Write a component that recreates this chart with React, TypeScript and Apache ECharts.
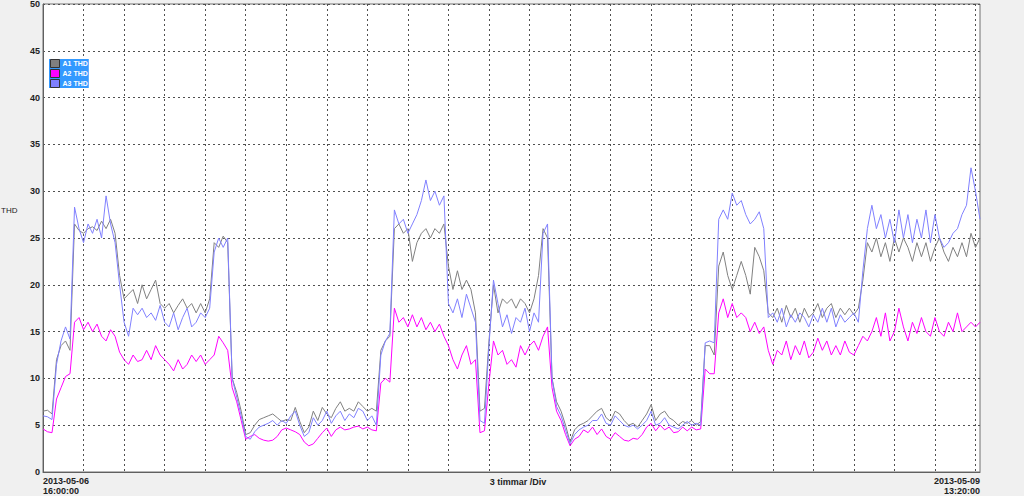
import React, { useEffect, useRef } from "react";
import * as echarts from "echarts";

// Sampling: 20-minute readings from 2013-05-06 16:00:00 to 2013-05-09 13:20:00
const START_UTC = Date.UTC(2013, 4, 6, 16, 0, 0);
const STEP_MINUTES = 20;
const GRID_EVERY_SAMPLES = 9; // 3 hours per division
const X_NAME = "3 timmar /Div";
const Y_NAME = "THD";
const Y_MIN = 0;
const Y_MAX = 50;
const Y_INTERVAL = 5;
const SERIES_NAMES = ["A1 THD", "A2 THD", "A3 THD"];
const SERIES_COLORS = ["#808080", "#ff00ff", "#8080ff"];

const A1_THD = [
  6.5, 6.6, 6.2, 12.0, 13.5, 14.0, 13.0, 26.5, 25.8, 25.5, 26.0,
  26.2, 25.8, 26.8, 26.0, 27.0, 25.5, 21.0, 18.5, 19.0, 19.5,
  18.0, 20.0, 18.5, 19.5, 20.5, 18.0, 17.5, 18.0, 17.0, 17.8,
  18.5, 17.5, 18.0, 17.0, 18.0, 17.0, 18.5, 24.5, 24.0, 25.2,
  24.5, 10.0, 8.5, 6.5, 4.0, 4.2, 5.0, 5.6, 5.8, 6.0,
  6.2, 5.8, 5.4, 5.6, 5.5, 6.9, 5.4, 4.2, 4.8, 6.5,
  5.5, 6.9, 6.2, 5.8, 6.8, 7.5, 6.5, 6.8, 6.5, 7.5,
  7.0, 6.5, 6.8, 6.5, 13.0, 14.0, 14.5, 26.0, 26.5, 25.5,
  26.0, 22.5, 24.5, 25.5, 26.0, 25.0, 26.0, 25.5, 26.5, 22.0,
  19.5, 21.5, 19.5, 20.5, 19.5, 17.0, 6.5, 6.8, 14.0, 20.0,
  17.0, 18.5, 18.0, 18.5, 17.5, 18.5, 18.0, 17.0, 18.5, 21.0,
  26.0, 25.0, 10.0, 7.5, 6.5, 5.0, 3.2, 4.5, 5.0, 5.2,
  5.5, 6.0, 6.5, 6.8, 5.8, 5.4, 6.5, 6.2, 5.5, 5.0,
  5.2, 4.8, 5.5, 6.2, 7.2, 5.5, 6.2, 6.5, 5.8, 5.5,
  5.0, 5.4, 5.2, 5.5, 5.0, 5.4, 13.5, 13.5, 12.5, 22.0,
  23.5, 21.0, 19.5, 21.0, 22.5, 21.0, 19.0, 24.0, 23.0, 21.5,
  17.0, 16.5, 17.5, 16.0, 17.8, 16.5, 17.5, 16.0, 17.5, 16.5,
  17.0, 18.0, 16.5, 17.5, 18.0, 16.5, 17.5, 16.8, 17.5, 16.8,
  17.5, 20.5, 24.5, 23.5, 25.0, 23.0, 24.5, 22.5, 25.0, 23.5,
  25.0, 24.0, 22.5, 24.5, 23.0, 24.5, 22.5, 24.0, 25.0, 23.5,
  22.5, 24.0, 23.0, 24.5, 23.0, 25.5, 24.0, 25.0,
];

const A2_THD = [
  4.6, 4.3, 4.2, 7.8, 9.0, 10.2, 10.5, 16.0, 16.5, 15.2, 16.0,
  15.0, 15.8, 14.5, 14.0, 15.2, 14.5, 12.8, 12.0, 11.5, 12.5,
  11.8, 12.0, 13.0, 12.0, 13.5, 12.5, 12.0, 11.5, 10.8, 12.0,
  11.0, 11.5, 12.5, 11.8, 12.5, 11.5, 12.0, 12.5, 14.5, 13.8,
  13.0, 9.0, 7.5, 5.5, 3.5, 3.8, 4.0, 3.6, 3.4, 3.3,
  3.4, 3.8, 4.5, 4.7, 4.5, 4.3, 4.0, 3.2, 2.8, 3.0,
  3.6, 4.2, 4.7, 3.8, 4.5, 4.8, 4.5, 4.6, 4.8, 4.9,
  4.6, 4.8, 4.5, 4.4, 9.5, 10.0, 9.6, 17.5, 16.0, 16.5,
  15.5, 16.8, 15.5, 16.5, 15.2, 16.0, 15.0, 15.8, 14.5, 13.5,
  12.0, 11.0, 12.5, 13.5, 11.5, 12.0, 4.2, 4.4, 9.5, 14.0,
  12.5, 13.0, 11.5, 12.0, 11.2, 13.5, 12.5, 13.5, 14.0, 13.0,
  14.5, 15.5, 9.0, 6.5, 5.5, 4.0, 2.8, 3.5, 3.8, 4.5,
  4.2, 4.8, 4.0, 4.6, 3.8, 3.5, 4.2, 3.8, 3.4, 3.3,
  3.6, 3.5, 4.0, 4.8, 5.2, 4.4, 5.0, 4.5, 4.8, 4.2,
  4.3, 4.8, 4.4, 4.8, 4.5, 4.6, 11.0, 10.5, 10.5, 17.0,
  18.5, 16.5, 18.0, 16.5, 17.0, 16.5, 15.0, 16.0, 14.8, 15.5,
  13.0, 11.5, 13.0, 12.5, 14.0, 12.0, 13.5, 12.5, 14.0, 12.2,
  12.8, 14.3, 13.0, 14.0, 12.5, 13.5, 12.5, 14.0, 12.8, 12.5,
  13.5, 14.5, 14.0, 15.0, 16.5, 14.5, 17.0, 14.0, 15.0, 17.5,
  15.5, 14.0, 16.0, 14.8, 16.5, 15.0, 14.5, 16.5, 15.0, 14.5,
  16.0, 15.0, 17.0, 15.0, 15.5, 16.0, 15.5, 16.0,
];

const A3_THD = [
  6.0, 5.9, 5.6, 11.5, 14.0, 15.5, 14.2, 28.3, 26.0, 24.5, 26.5,
  25.5, 27.0, 25.0, 29.5, 26.5, 24.5, 20.0, 16.0, 14.5, 17.5,
  16.8, 17.5, 16.5, 17.0, 16.2, 17.8, 16.0, 15.5, 17.0, 15.2,
  16.5, 17.5, 15.5, 16.0, 17.0, 16.5, 17.5, 23.5, 25.0, 24.0,
  25.0, 10.0, 8.0, 6.0, 3.8, 3.5, 4.3, 4.8, 5.0, 5.2,
  5.5, 5.0, 5.5, 5.2, 6.0, 6.5, 5.0, 3.8, 4.2, 5.8,
  5.0, 5.5, 6.5, 5.2, 6.0, 6.5, 5.5, 6.2, 5.8, 6.8,
  6.5, 5.5, 6.0, 5.0, 12.5, 14.0, 14.8, 28.0, 26.5, 27.0,
  25.5, 26.5, 27.5, 29.0, 31.2, 29.0, 30.0, 28.5, 29.5, 18.0,
  17.0, 18.5, 16.5, 19.0, 17.5, 16.0, 5.5, 5.2, 13.5, 20.5,
  18.0, 15.5, 16.8, 14.8, 16.5, 16.0, 17.5, 15.0, 17.0, 16.0,
  25.5, 26.5, 10.0, 7.0, 6.0, 4.5, 3.0, 4.0, 4.5, 4.8,
  5.0, 5.5, 5.5, 6.2, 5.2, 5.0, 6.0, 5.5, 5.0, 4.8,
  5.0, 4.6, 5.0, 5.5, 6.5, 5.0, 5.2, 5.8, 5.0, 4.8,
  4.6, 5.0, 5.4, 5.0, 5.2, 5.0, 13.8, 14.0, 13.8, 27.0,
  28.0, 27.0, 29.8, 28.5, 29.0, 27.5, 26.5, 27.0, 27.8, 26.0,
  16.5, 17.0, 16.0, 17.5, 15.5, 16.8, 16.0, 17.0, 16.5, 15.5,
  16.8, 16.0, 17.5, 16.0, 17.5, 15.5, 16.8, 16.0, 16.5, 17.0,
  16.0, 21.5, 26.0, 28.5, 26.0, 27.5, 25.0, 27.0, 24.5, 28.0,
  25.0, 27.5, 24.5, 27.0, 25.0, 28.0, 24.5, 27.5, 25.0, 24.0,
  24.5, 25.5, 26.0, 27.5, 28.5, 32.5, 30.0, 27.0,
];

const pad = (n: number) => String(n).padStart(2, "0");
const fmt = (ms: number) => {
  const d = new Date(ms);
  return (
    `${d.getUTCFullYear()}-${pad(d.getUTCMonth() + 1)}-${pad(d.getUTCDate())}\n` +
    `${pad(d.getUTCHours())}:${pad(d.getUTCMinutes())}:${pad(d.getUTCSeconds())}`
  );
};
const CATEGORIES = A1_THD.map((_, i) => fmt(START_UTC + i * STEP_MINUTES * 60000));

const FONT = "'Liberation Sans', Arial, sans-serif";

export default function App() {
  const ref = useRef<HTMLDivElement>(null);
  useEffect(() => {
    if (!ref.current) return;
    const chart = echarts.init(ref.current, undefined, { renderer: "svg" });
    const last = CATEGORIES.length - 1;
    chart.setOption({
      animation: false,
      backgroundColor: "#f0f0f0",
      grid: {
        left: 43,
        right: 44,
        top: 4,
        bottom: 24,
        outerBoundsMode: "none",
        containLabel: false,
        show: true,
        backgroundColor: "#ffffff",
        borderColor: "#707070",
        borderWidth: 1,
      },
      graphic: [
        {
          type: "text",
          left: 1,
          top: 206,
          style: {
            text: Y_NAME,
            fontSize: 8,
            fill: "#222",
            fontFamily: FONT,
          },
        },
      ],
      legend: {
        orient: "vertical",
        left: 49,
        top: 59,
        backgroundColor: "#3399ff",
        padding: [0, 1, 0, 1],
        itemGap: 1,
        itemWidth: 9,
        itemHeight: 8,
        icon: "rect",
        itemStyle: { borderColor: "#333333", borderWidth: 1 },
        textStyle: {
          color: "#ffffff",
          fontWeight: "bold",
          fontSize: 7,
          lineHeight: 8,
          fontFamily: FONT,
          padding: [0, 0, 0, -2],
        },
        data: SERIES_NAMES,
      },
      xAxis: {
        type: "category",
        data: CATEGORIES,
        boundaryGap: false,
        name: X_NAME,
        nameLocation: "middle",
        nameGap: 5,
        nameMoveOverlap: false,
        nameTextStyle: {
          fontSize: 9,
          fontWeight: "bold",
          color: "#222",
          fontFamily: FONT,
          lineHeight: 10,
          padding: [0, 0, 0, 13],
        },
        axisLine: { show: true, lineStyle: { color: "#606060" } },
        axisTick: { show: false },
        axisLabel: {
          interval: (i: number) => i === 0 || i === last,
          alignMinLabel: "left",
          alignMaxLabel: "right",
          margin: 4,
          fontSize: 9,
          lineHeight: 10,
          fontWeight: "bold",
          color: "#222",
          fontFamily: FONT,
          hideOverlap: false,
        },
        splitLine: {
          show: true,
          interval: (i: number) => i % GRID_EVERY_SAMPLES === 0 && i !== 0,
          lineStyle: { color: "#505050", type: [2, 3], width: 1 },
        },
      },
      yAxis: {
        type: "value",
        min: Y_MIN,
        max: Y_MAX,
        interval: Y_INTERVAL,
        axisLine: { show: true, lineStyle: { color: "#606060" } },
        axisTick: { show: false },
        axisLabel: {
          margin: 3,
          fontSize: 9,
          fontWeight: "bold",
          color: "#222",
          fontFamily: FONT,
        },
        splitLine: {
          show: true,
          lineStyle: { color: "#505050", type: [2, 3], width: 1 },
        },
      },
      series: [A1_THD, A2_THD, A3_THD].map((d, k) => ({
        name: SERIES_NAMES[k],
        type: "line",
        data: d,
        showSymbol: false,
        symbol: "none",
        color: SERIES_COLORS[k],
        lineStyle: { width: 1, color: SERIES_COLORS[k] },
        emphasis: { disabled: true },
      })),
    });
    return () => chart.dispose();
  }, []);
  return (
    <div
      ref={ref}
      style={{ position: "fixed", left: 0, top: 0, width: 1024, height: 496 }}
    />
  );
}
